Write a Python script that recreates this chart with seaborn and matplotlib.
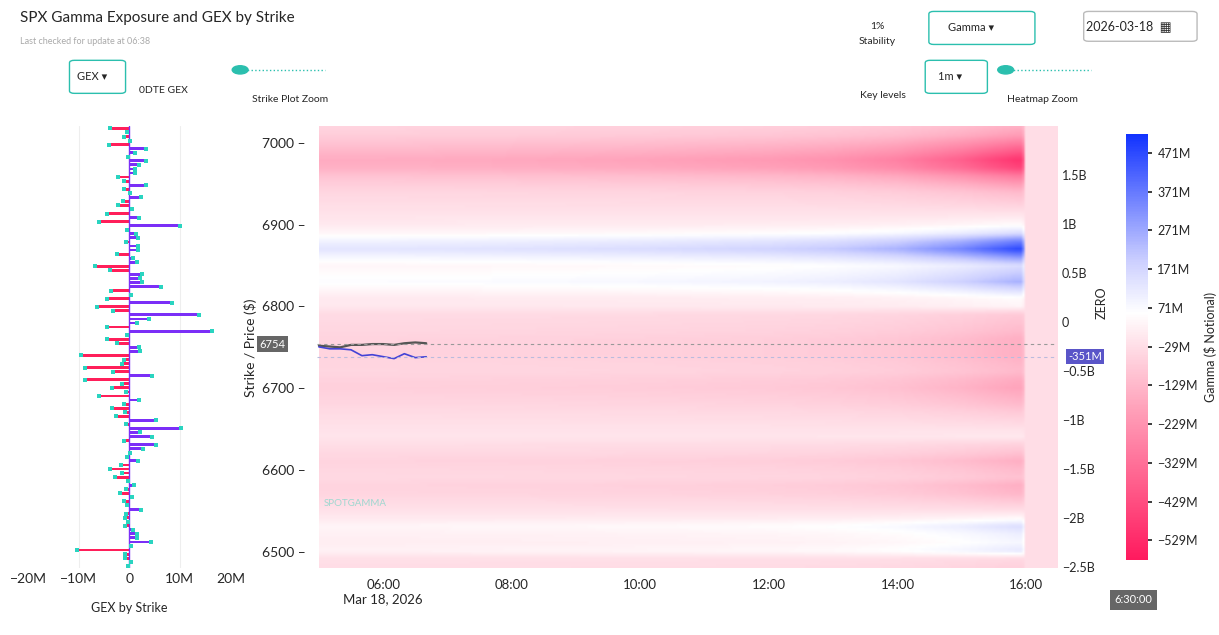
import numpy as np
import pandas as pd
import matplotlib
matplotlib.use("Agg")
import matplotlib.pyplot as plt
import seaborn as sns
from matplotlib.colors import LinearSegmentedColormap, Normalize
from matplotlib.patches import FancyBboxPatch

sns.set_theme(style="white")
plt.rcParams['font.family'] = ['Lato', 'DejaVu Sans']

# ---- GEX by strike (M), top to bottom ----
gex_values = [-3.7,-0.5,-1,0.2,-4,3.3,1.2,-0.2,3.4,2,1.2,1.1,-2.3,-1.1,3.3,-1,0.2,2.4,-1.3,-2.2,
              0.6,-4.3,2,-6,10,-0.5,1.3,1.8,-0.6,1.7,1.8,-2.5,0.8,1.6,-6.7,-3.8,2.6,2.2,2.6,6.3,
              -3.6,0.3,-4.3,8.5,-6.3,-3.3,13.7,4,1.6,-4.3,16.3,-0.5,-4.3,-2.4,2,2.2,-9.5,-1.1,-1.5,-8.8,
              -3.2,4.5,-8.7,-1.4,-3.5,-0.6,-6,2,-1.1,-3.4,-0.8,-2.7,5.3,-0.6,10.3,2.2,4.5,-1,5.3,2.8,
              0.2,-0.4,1.7,-1.6,-3.7,-1.5,-2.9,-0.3,1,-0.6,-1.8,0.6,-1.1,-0.5,2.4,-0.6,-0.8,-0.2,-0.8,0.8,
              1.5,1.5,4.4,0.3,-10.3,-0.8,-0.8,0.3,-0.3]
bar_strikes = [str(7025 - 5 * i) for i in range(len(gex_values))]

# ---- heatmap: gamma profile at 16:00 (M) by strike, and time growth ----
hm_strikes = list(range(7020, 6470, -10))
hm_profile = [-150,-200,-300,-400,-500,-450,-300,-200,-120,-80,-40,0,50,150,350,470,300,150,200,250,
              150,50,30,-80,-100,-120,-150,-150,-150,-130,-120,-160,-180,-150,-120,-80,-50,-20,0,-60,
              -100,-150,-120,-100,-150,-130,-80,-30,40,150,100,80,120,-40,-60]
hm_hours = [5.0, 6.0, 8.0, 10.0, 12.0, 13.0, 14.0, 15.0, 15.5, 15.85, 15.95, 16.0, 16.5]
hm_growth = [0.3, 0.3, 0.32, 0.35, 0.4, 0.45, 0.55, 0.75, 0.9, 1.0, 1.0, None, None]
base_level = -15
after_close = -30

# ---- price and GEX lines ----
line_hours = [5.0,5.17,5.33,5.5,5.67,5.83,6.0,6.17,6.33,6.5,6.67]
price = [6752,6751,6750,6753,6753,6754,6754,6753,6755,6756,6755]
gex_line = [-0.25,-0.27,-0.27,-0.28,-0.34,-0.33,-0.35,-0.37,-0.32,-0.36,-0.351]

fig = plt.figure(figsize=(12.19, 6.35), dpi=100)

# ---- bar chart ----
axb = fig.add_axes([0.023, 0.105, 0.166, 0.696])
df = pd.DataFrame({"strike": bar_strikes, "gex": gex_values})
df["sign"] = np.where(df["gex"] >= 0, "pos", "neg")
sns.barplot(data=df, y="strike", x="gex", hue="sign", order=bar_strikes, orient="h",
            palette={"pos": "#7b2ff7", "neg": "#ff1f5a"}, dodge=False, width=0.7,
            linewidth=0, saturation=1, legend=False, ax=axb)
axb.scatter(df["gex"], np.arange(len(df)), s=5, color="#2ad4c0", marker="s", zorder=3, linewidths=0)
axb.set_ylim(len(df) - 0.5, -0.5)
axb.set_xlim(-20, 20)
axb.set_xticks([-20, -10, 0, 10, 20])
axb.set_xticklabels(["\u221220M", "\u221210M", "0", "10M", "20M"], fontsize=10)
axb.set_yticks([])
axb.set_ylabel("")
axb.set_xlabel("GEX by Strike", fontsize=9, labelpad=12)
axb.axvline(0, color="#7b2ff7", lw=1)
for v in (-10, 10):
    axb.axvline(v, color="#eeeeee", lw=0.8, zorder=0)
for s in axb.spines.values():
    s.set_visible(False)
axb.tick_params(length=0)

# ---- heatmap ----
axh = fig.add_axes([0.26, 0.105, 0.607, 0.696])
cols = []
prof = np.array(hm_profile, dtype=float)
for g in hm_growth:
    cols.append(np.full_like(prof, after_close) if g is None else prof * g + (1 - g) * base_level)
grid = np.array(cols).T
cmap = LinearSegmentedColormap.from_list("gx", [(0, "#ff1a5e"), (0.35, "#ff9fb8"), (0.5, "#ffdde6"),
                                                (0.58, "#ffffff"), (0.7, "#cdd0ff"), (1, "#1233ff")])
norm = Normalize(-580, 520)
tt = np.linspace(5.0, 16.5, 300)
reg = np.array([np.interp(tt, hm_hours, row) for row in grid])
ss = np.linspace(7020, 6480, 200)
reg = np.array([np.interp(-ss, -np.array(hm_strikes, float), reg[:, j]) for j in range(reg.shape[1])]).T
axh.imshow(reg, cmap=cmap, norm=norm, aspect="auto", extent=[5.0, 16.5, 6480, 7020],
           interpolation="bilinear", origin="upper")
axh.set_xlim(4.97, 16.48)
axh.set_ylim(6480, 7020)
sns.lineplot(x=line_hours, y=price, color="#555555", lw=1.6, ax=axh)
axh.axhline(6754, color="#999999", ls=(0, (3, 3)), lw=0.8)
axh.set_yticks([6500, 6600, 6700, 6800, 6900, 7000])
axh.set_yticklabels([str(v) + " \u2013" for v in [6500, 6600, 6700, 6800, 6900, 7000]], fontsize=10)
axh.set_ylabel("Strike / Price ($)", fontsize=10)
axh.set_xticks([6, 8, 10, 12, 14, 16])
axh.set_xticklabels(["06:00\nMar 18, 2026", "08:00", "10:00", "12:00", "14:00", "16:00"], fontsize=9.5)
axh.tick_params(length=0, pad=8)
for s in axh.spines.values():
    s.set_visible(False)
axh.text(5.08, 6556, "SPOTGAMMA", fontsize=7, color="#9fd8d0")
axh.text(-0.06, 6754, "6754", transform=axh.get_yaxis_transform(), fontsize=8, color="white",
         ha="center", va="center", bbox=dict(boxstyle="square,pad=0.25", fc="#666666", ec="none"))

axr = axh.twinx()
axr.set_ylim(-2.51, 2.0)
sns.lineplot(x=line_hours, y=gex_line, color="#4343d6", lw=1.2, ax=axr)
axr.axhline(-0.351, color="#bbbbdd", ls=(0, (3, 3)), lw=0.8)
axr.set_yticks([1.5, 1, 0.5, 0, -0.5, -1, -1.5, -2, -2.5])
axr.set_yticklabels(["1.5B", "1B", "0.5B", "0", "\u22120.5B", "\u22121B", "\u22121.5B", "\u22122B", "\u22122.5B"], fontsize=9)
axr.tick_params(length=0)
axr.set_ylabel("ZERO", fontsize=9)
axr.yaxis.set_label_coords(1.053, 0.6)
for s in axr.spines.values():
    s.set_visible(False)
axr.text(1.038, -0.351, "-351M", transform=axr.get_yaxis_transform(), fontsize=8, color="white",
         ha="center", va="center", bbox=dict(boxstyle="square,pad=0.2", fc="#5a55c8", ec="none"))

# ---- colorbar ----
axc = fig.add_axes([0.924, 0.118, 0.018, 0.671])
cb = fig.colorbar(plt.cm.ScalarMappable(norm=norm, cmap=cmap), cax=axc)
cticks = [471, 371, 271, 171, 71, -29, -129, -229, -329, -429, -529]
cb.set_ticks(cticks)
cb.set_ticklabels([f"{v}M" if v >= 0 else f"\u2212{-v}M" for v in cticks], fontsize=9)
cb.outline.set_visible(False)
axc.tick_params(length=3)
cb.set_label("Gamma ($ Notional)", fontsize=9)

# ---- header UI text ----
fig.text(0.016, 0.965, "SPX Gamma Exposure and GEX by Strike", fontsize=11)
fig.text(0.016, 0.93, "Last checked for update at 06:38", fontsize=6.5, color="#aaaaaa")
fig.text(0.72, 0.93, "Stability", fontsize=7.5, ha="center")
fig.text(0.72, 0.955, "1%", fontsize=7.5, ha="center")
def box(x, y, w, h, txt, ec="#2bbfae", fs=8):
    fig.patches.append(FancyBboxPatch((x, y), w, h, boxstyle="round,pad=0,rounding_size=0.004",
                                      transform=fig.transFigure, fc="white", ec=ec, lw=1))
    fig.text(x + w * 0.4, y + h / 2, txt, fontsize=fs, ha="center", va="center")
box(0.762, 0.93, 0.087, 0.052, "Gamma \u25be")
box(0.889, 0.935, 0.093, 0.047, "2026-03-18  \u25a6", ec="#bbbbbb", fs=9)
box(0.057, 0.853, 0.046, 0.052, "GEX \u25be")
box(0.759, 0.853, 0.051, 0.052, "1m \u25be")
fig.text(0.134, 0.853, "0DTE GEX", fontsize=7.5, ha="center")
fig.text(0.238, 0.84, "Strike Plot Zoom", fontsize=7.5, ha="center")
fig.text(0.724, 0.845, "Key levels", fontsize=7.5, ha="center")
fig.text(0.855, 0.84, "Heatmap Zoom", fontsize=7.5, ha="center")
fig.text(0.93, 0.05, "6:30:00", fontsize=8, color="white", ha="center",
         bbox=dict(boxstyle="square,pad=0.4", fc="#666666", ec="none"))
for (x, y) in [(0.197, 0.89), (0.825, 0.89)]:
    fig.lines.append(plt.Line2D([x, x + 0.07], [y, y], transform=fig.transFigure, color="#2bbfae", lw=1, ls=":"))
    fig.patches.append(plt.Circle((x, y), 0.0065, transform=fig.transFigure, color="#2bbfae"))

fig.savefig("out.png", dpi=100)
